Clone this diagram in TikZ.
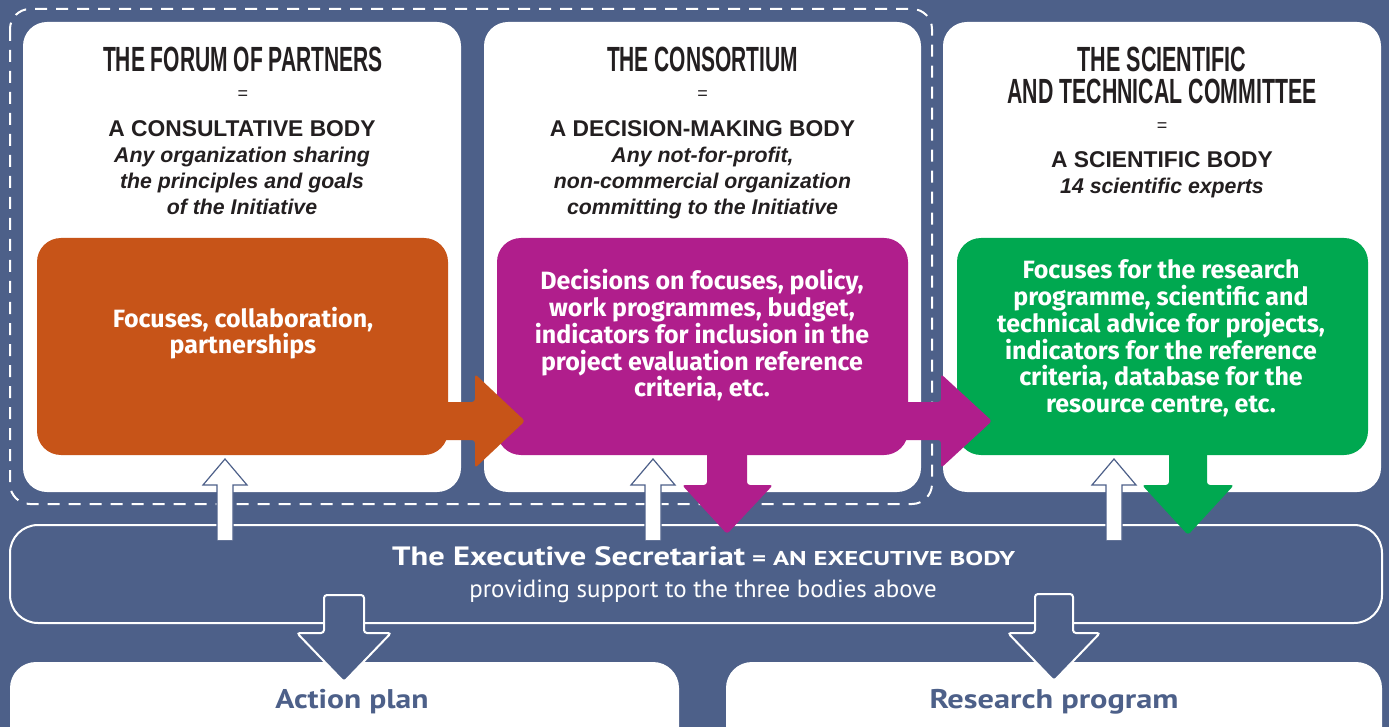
\documentclass[tikz,border=0pt]{standalone}
\usepackage{fontspec}
\usepackage{graphicx}
\setmainfont{Liberation Sans}
\newfontfamily\boxfont{Fira Sans}
\newfontfamily\execfont{PT Sans}
\definecolor{bgc}{RGB}{77,96,137}
\definecolor{orangec}{RGB}{199,84,24}
\definecolor{purplec}{RGB}{176,30,140}
\definecolor{greenc}{RGB}{0,168,80}
\definecolor{ink}{RGB}{35,31,32}
\newcommand\stacklines[1]{\vtop{\halign{\hfil##\hfil\cr#1\crcr}}}
\newcommand\ttl[2]{\resizebox{#1}{\height}{\bfseries\fontsize{35}{35}\selectfont #2}}
\newcommand\wbox[2]{\resizebox{#1}{\height}{#2}}
\begin{document}
\begin{tikzpicture}[x=1pt,y=-1pt,
  panel/.style={fill=white, rounded corners=24pt, minimum height=470pt, inner sep=0pt},
  cbox/.style={rounded corners=24pt, minimum width=411pt, minimum height=217pt, inner sep=0pt},
  title/.style={anchor=base, inner sep=0pt, text=ink},
  eqs/.style={inner sep=0pt, text=ink, font=\fontsize{18}{18}\selectfont},
  sub/.style={anchor=base, inner sep=0pt, text=ink, font=\bfseries\fontsize{22.8}{22.8}\selectfont},
  desc/.style={anchor=base, inner sep=0pt, text=ink, font=\bfseries\itshape\fontsize{21.3}{26}\selectfont},
  boxtxt/.style={anchor=base, inner sep=0pt, text=white, font=\boxfont\bfseries\fontsize{25}{26.7}\selectfont},
  hollowup/.style={fill=white, draw=bgc, line width=1.2pt, line join=miter},
  hollowdown/.style={fill=bgc, draw=white, line width=2pt, rounded corners=3pt},
  outtxt/.style={anchor=base, inner sep=0pt, text=bgc, font=\execfont\bfseries\fontsize{27}{27}\selectfont}
]
\useasboundingbox (0,0) rectangle (1389,727);
\clip (0,0) rectangle (1389,727);
\fill[bgc] (0,0) rectangle (1389,727);

% dashed frame around the first two bodies
\draw[white, line width=2pt, dash pattern=on 12pt off 9pt, rounded corners=20pt] (10,9) rectangle (932,504);

% panels
\node[panel, minimum width=438pt] (p1) at (242,257) {};
\node[panel, minimum width=437pt] (p2) at (702.5,257) {};
\node[panel, minimum width=438pt] (p3) at (1162,257) {};

% coloured boxes
\node[cbox, fill=orangec] (ob) at (242.5,346.5) {};
\node[cbox, fill=purplec] (pb) at (702.5,346.5) {};
\node[cbox, fill=greenc] (gb) at (1162.5,346.5) {};

% panel 1 texts
\node[title] (t1) at (243,72) {\ttl{280pt}{THE FORUM OF PARTNERS}};
\node[eqs] (e1) at (243,95) {=};
\node[sub] (s1) at (242,137) {A CONSULTATIVE BODY};
\node[desc] (d1) at (242,163) {\stacklines{Any organization sharing\cr the principles and goals\cr of the Initiative}};

% panel 2 texts
\node[title] (t2) at (702.5,72) {\ttl{191pt}{THE CONSORTIUM}};
\node[eqs] (e2) at (702.5,95) {=};
\node[sub] (s2) at (702.5,137) {A DECISION-MAKING BODY};
\node[desc] (d2) at (702.5,163) {\stacklines{Any not-for-profit,\cr non-commercial organization\cr committing to the Initiative}};

% panel 3 texts
\node[title] (t3a) at (1162,72) {\ttl{169pt}{THE SCIENTIFIC}};
\node[title] (t3b) at (1162,104) {\ttl{309pt}{AND TECHNICAL COMMITTEE}};
\node[eqs] (e3) at (1162,127) {=};
\node[sub] (s3) at (1162,168) {A SCIENTIFIC BODY};
\node[desc] (d3) at (1162,194) {14 scientific experts};

% coloured box texts
\node[boxtxt] (ot) at (243,327) {\stacklines{Focuses, collaboration,\cr partnerships}};
\node[boxtxt] (pt) at (702,290) {\stacklines{Decisions on focuses, policy,\cr work programmes, budget,\cr indicators for inclusion in the\cr project evaluation reference\cr criteria, etc.}};
\node[boxtxt] (gt) at (1161,279) {\stacklines{Focuses for the research\cr programme, scientific and\cr technical advice for projects,\cr indicators for the reference\cr criteria, database for the\cr resource centre, etc.}};

% executive secretariat
\node[draw=white, line width=2pt, rounded corners=28pt, minimum width=1372pt, minimum height=98pt, inner sep=0pt] (ex) at (696,574) {};
% outputs
\node[fill=white, rounded corners=26pt, minimum width=669pt, minimum height=118pt, inner sep=0pt] (ap) at (344.5,721) {};
\node[fill=white, rounded corners=26pt, minimum width=656pt, minimum height=118pt, inner sep=0pt] (rp) at (1054,721) {};

% right arrows between bodies
\fill[orangec, rounded corners=3pt] (438,402) -- (475,402) -- (475,374) -- (525,421) -- (475,468) -- (475,440) -- (438,440) -- cycle;
\fill[purplec, rounded corners=3pt] (898,402) -- (941,402) -- (941,374) -- (992,421) -- (941,468) -- (941,440) -- (898,440) -- cycle;

% down arrows to the secretariat
\fill[purplec, rounded corners=3pt] (707,445) -- (707,485) -- (682,485) -- (727,534) -- (773,485) -- (747,485) -- (747,445) -- cycle;
\fill[greenc, rounded corners=3pt] (1169,445) -- (1169,485) -- (1142,485) -- (1188,535) -- (1234,485) -- (1207,485) -- (1207,445) -- cycle;

% hollow support arrows up
\foreach \cx/\nm in {225/ua, 653/ub, 1114/uc}{
  \draw[hollowup] (\cx-8,540) -- (\cx-8,485) -- (\cx-22,485) -- (\cx,459) -- (\cx+22,485) -- (\cx+8,485) -- (\cx+8,540);
}

% hollow arrows down to outputs
\draw[hollowdown] (324,595) -- (324,633) -- (297,633) -- (344,682) -- (391,633) -- (364,633) -- (364,595) -- cycle;
\draw[hollowdown] (1035,594) -- (1035,633) -- (1008,633) -- (1054,681) -- (1100,633) -- (1073,633) -- (1073,594) -- cycle;

% executive texts
\node[anchor=base west, inner sep=0pt, text=white] (ext) at (392,565) {\execfont\bfseries\fontsize{26.5}{26.5}\selectfont\wbox{353pt}{The Executive Secretariat}};
\node[anchor=base west, inner sep=0pt, text=white] (exb) at (752,565) {\execfont\bfseries\fontsize{20}{20}\selectfont\wbox{263pt}{= AN EXECUTIVE BODY}};
\node[anchor=base, inner sep=0pt, text=white] (exs) at (703,597) {\execfont\fontsize{24.9}{24.9}\selectfont providing support to the three bodies above};

\node[outtxt] (apt) at (352,708) {\wbox{153pt}{Action plan}};
\node[outtxt] (rpt) at (1054,708) {\wbox{249pt}{Research program}};
\end{tikzpicture}
\end{document}
